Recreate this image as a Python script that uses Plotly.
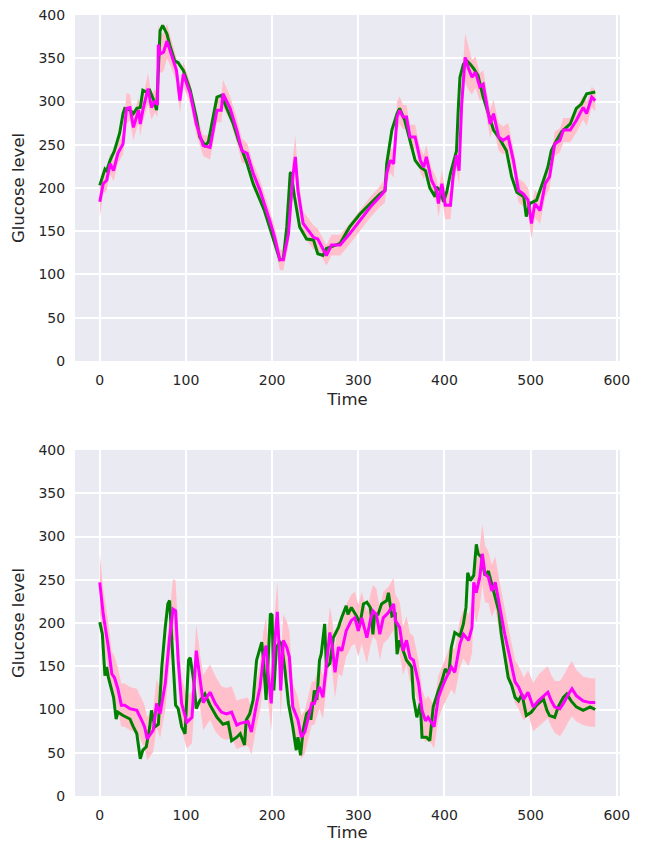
import plotly.graph_objects as go
from plotly.subplots import make_subplots

# ---------------- top panel ----------------
top_actual_t = [0,6,8,12,17,23,27,29,35,39,43,47,50,54,58,62,66,70,73,78,81,87,91,97,105,112,116,122,126,132,136,141,147,155,161,171,178,186,191,197,205,209,213,217,221,222,226,232,240,248,253,259,263,279,290,302,314,325,331,333,339,345,348,354,360,366,372,378,383,389,391,395,399,403,407,410,414,416,418,422,426,430,434,439,445,451,457,464,472,478,484,492,495,499,507,515,520,524,530,536,546,553,559,565,573,575]
top_actual = [203,222,220,232,243,263,286,292,290,286,292,293,313,311,313,303,290,382,388,378,366,347,345,336,313,282,259,249,253,282,305,307,293,274,255,228,205,186,174,155,128,117,118,155,217,218,190,155,141,140,124,122,130,136,155,170,182,193,197,228,267,286,292,278,255,232,224,220,200,190,201,197,184,197,217,228,243,290,328,343,347,343,338,330,305,286,267,257,243,213,195,190,167,182,186,209,224,243,255,265,274,292,297,309,311,311]

top_pred_t = [0,4,8,12,16,21,27,31,35,39,45,47,50,56,60,64,67,68,70,74,78,83,89,93,97,105,112,120,128,136,141,143,151,159,165,171,178,186,191,197,203,209,213,219,224,227,230,236,242,248,253,257,263,269,279,290,302,314,325,331,333,337,341,345,348,352,356,360,366,372,376,379,385,391,393,397,401,407,410,414,417,420,424,428,432,436,441,445,449,453,457,463,468,474,480,486,492,497,501,505,511,517,522,528,534,538,546,553,561,565,571,575]
top_pred = [184,205,209,228,220,240,251,292,293,270,290,274,290,315,293,301,296,366,355,357,370,355,336,301,332,309,274,249,247,290,290,309,293,267,243,240,217,197,182,163,143,117,117,147,213,236,197,159,151,143,141,134,122,134,134,147,163,178,190,197,217,232,228,282,290,282,282,259,259,232,224,236,209,197,182,205,180,180,213,238,220,297,351,338,328,334,317,320,297,274,286,259,255,259,232,197,193,186,159,182,174,205,213,251,255,267,267,278,293,286,305,301]
top_spread = [18,12,12,12,12,12,12,18,15,15,14,14,14,18,14,14,14,25,22,22,20,16,14,14,14,12,12,12,14,14,14,16,14,14,14,12,12,12,12,12,12,12,12,14,22,25,18,14,14,14,12,12,12,12,12,12,12,12,12,14,14,14,16,18,16,14,14,14,14,14,14,14,14,14,16,16,16,16,16,16,16,20,28,25,20,18,16,16,16,16,16,16,16,16,14,14,14,14,18,16,16,16,14,14,14,14,14,14,14,14,12,12]

# ---------------- bottom panel ----------------
bot_actual_t = [0,3,6,8,10,14,16,19,21,27,35,39,43,47,50,54,58,60,64,68,72,76,79,81,84,88,91,95,99,103,105,109,112,116,122,128,136,143,149,153,159,163,168,170,174,178,182,186,188,190,193,195,198,200,202,205,209,211,215,219,224,228,230,233,236,240,244,245,249,252,255,257,261,263,267,271,277,281,286,288,292,298,302,306,310,314,317,319,323,327,333,335,339,343,345,348,356,362,364,368,372,374,379,383,387,393,397,401,405,408,412,418,422,425,427,430,434,437,439,443,447,451,455,459,463,466,470,474,478,482,486,490,495,501,507,515,519,522,528,532,538,542,547,553,561,569,575]
bot_actual = [201,187,139,149,137,122,114,89,97,93,89,80,72,43,53,57,80,99,80,83,149,195,222,226,172,105,101,80,72,157,160,133,101,110,118,105,91,83,85,64,68,72,59,88,95,111,157,172,178,157,111,149,211,209,122,172,178,176,145,107,80,53,68,47,76,95,99,88,122,111,157,164,199,149,153,183,195,207,220,210,218,208,199,222,224,218,187,210,210,222,226,235,208,210,164,180,157,149,114,91,107,68,68,64,103,122,133,147,141,172,189,185,199,218,258,249,255,291,280,276,255,260,245,230,214,187,164,137,128,114,110,118,93,97,105,112,99,93,91,103,114,118,110,103,99,103,100]

bot_pred_t = [0,4,10,14,17,21,25,29,35,43,48,52,55,59,62,66,70,76,81,85,88,91,95,101,107,112,116,120,124,128,134,141,147,153,159,163,172,176,182,186,190,193,195,199,202,206,208,210,213,217,220,224,230,234,238,242,246,249,252,255,259,263,267,270,273,277,281,286,292,296,300,304,310,314,317,321,325,329,335,341,343,348,352,356,360,364,370,374,378,381,388,393,399,405,408,412,418,422,428,432,434,437,441,444,447,451,455,459,464,470,476,482,486,492,497,503,509,515,520,524,528,534,538,544,548,553,561,569,575]
bot_pred = [247,210,172,141,137,124,105,105,101,99,89,80,66,72,76,107,95,130,183,216,214,157,107,85,91,168,137,108,114,120,107,97,95,97,82,84,86,74,107,126,161,174,145,107,165,213,176,122,180,172,161,103,88,68,74,92,107,107,118,126,114,149,189,172,143,172,168,191,203,206,191,206,183,203,214,210,187,206,212,222,203,195,168,180,160,157,130,99,87,91,80,114,130,143,149,143,176,187,180,195,247,235,253,280,257,253,237,247,218,187,160,132,126,112,120,103,110,116,120,110,103,101,107,118,124,116,110,108,108]
bot_spread = [33,30,28,26,25,25,25,25,25,25,25,25,25,25,25,28,28,30,32,35,35,32,30,30,30,30,30,32,32,32,32,30,30,30,28,28,28,26,26,28,30,32,32,32,32,35,32,30,30,30,30,28,26,25,25,25,25,25,25,25,25,28,30,30,30,30,30,30,30,30,30,30,30,30,30,30,30,30,30,30,30,30,28,28,28,28,26,25,25,25,25,25,25,26,26,26,28,28,30,30,32,35,35,35,33,30,30,30,30,28,26,25,25,25,25,28,30,30,30,30,30,32,32,32,32,30,28,28,28]

for a, b in [(top_actual_t, top_actual), (top_pred_t, top_pred), (top_pred_t, top_spread),
             (bot_actual_t, bot_actual), (bot_pred_t, bot_pred), (bot_pred_t, bot_spread)]:
    assert len(a) == len(b), (len(a), len(b))

time_ticks = [0, 100, 200, 300, 400, 500, 600]
glucose_ticks = [0, 50, 100, 150, 200, 250, 300, 350, 400]

BAND = "rgb(255,192,203)"
GREEN = "#008000"
MAGENTA = "#FF00FF"

fig = make_subplots(rows=2, cols=1, vertical_spacing=0.114)

panels = [(top_actual_t, top_actual, top_pred_t, top_pred, top_spread),
          (bot_actual_t, bot_actual, bot_pred_t, bot_pred, bot_spread)]
for row, (at, av, pt, pv, sp) in enumerate(panels, start=1):
    lower = [v - s for v, s in zip(pv, sp)]
    upper = [v + s for v, s in zip(pv, sp)]
    fig.add_trace(go.Scatter(x=pt, y=lower, mode="lines", line=dict(width=0, color=BAND),
                             showlegend=False, hoverinfo="skip"), row=row, col=1)
    fig.add_trace(go.Scatter(x=pt, y=upper, mode="lines", line=dict(width=0, color=BAND),
                             fill="tonexty", fillcolor=BAND, showlegend=False, hoverinfo="skip"),
                  row=row, col=1)
    fig.add_trace(go.Scatter(x=at, y=av, mode="lines", line=dict(color=GREEN, width=3),
                             showlegend=False), row=row, col=1)
    fig.add_trace(go.Scatter(x=pt, y=pv, mode="lines", line=dict(color=MAGENTA, width=3),
                             showlegend=False), row=row, col=1)

tick_font = dict(family="DejaVu Sans", size=14, color="#262626")
title_font = dict(family="DejaVu Sans", size=16.5, color="#262626")
for row in (1, 2):
    fig.update_xaxes(range=[-28.75, 603.75], tickvals=time_ticks, showgrid=True,
                     gridcolor="white", gridwidth=1.6, zeroline=False, showline=False,
                     ticks="outside", ticklen=6, tickcolor="rgba(0,0,0,0)",
                     tickfont=tick_font, automargin=False,
                     title=dict(text="Time", font=title_font, standoff=6), row=row, col=1)
    fig.update_yaxes(range=[0, 400], tickvals=glucose_ticks, showgrid=True,
                     gridcolor="white", gridwidth=1.6, zeroline=False, showline=False,
                     ticks="outside", ticklen=6, tickcolor="rgba(0,0,0,0)",
                     tickfont=tick_font, automargin=False,
                     title=dict(text="Glucose level", font=title_font, standoff=9), row=row, col=1)

fig.update_layout(
    width=648, height=842,
    margin=dict(l=75, r=28, t=15, b=46),
    paper_bgcolor="white", plot_bgcolor="#EAEAF2",
    font=tick_font,
    showlegend=False,
)
fig.write_html("out.html")
